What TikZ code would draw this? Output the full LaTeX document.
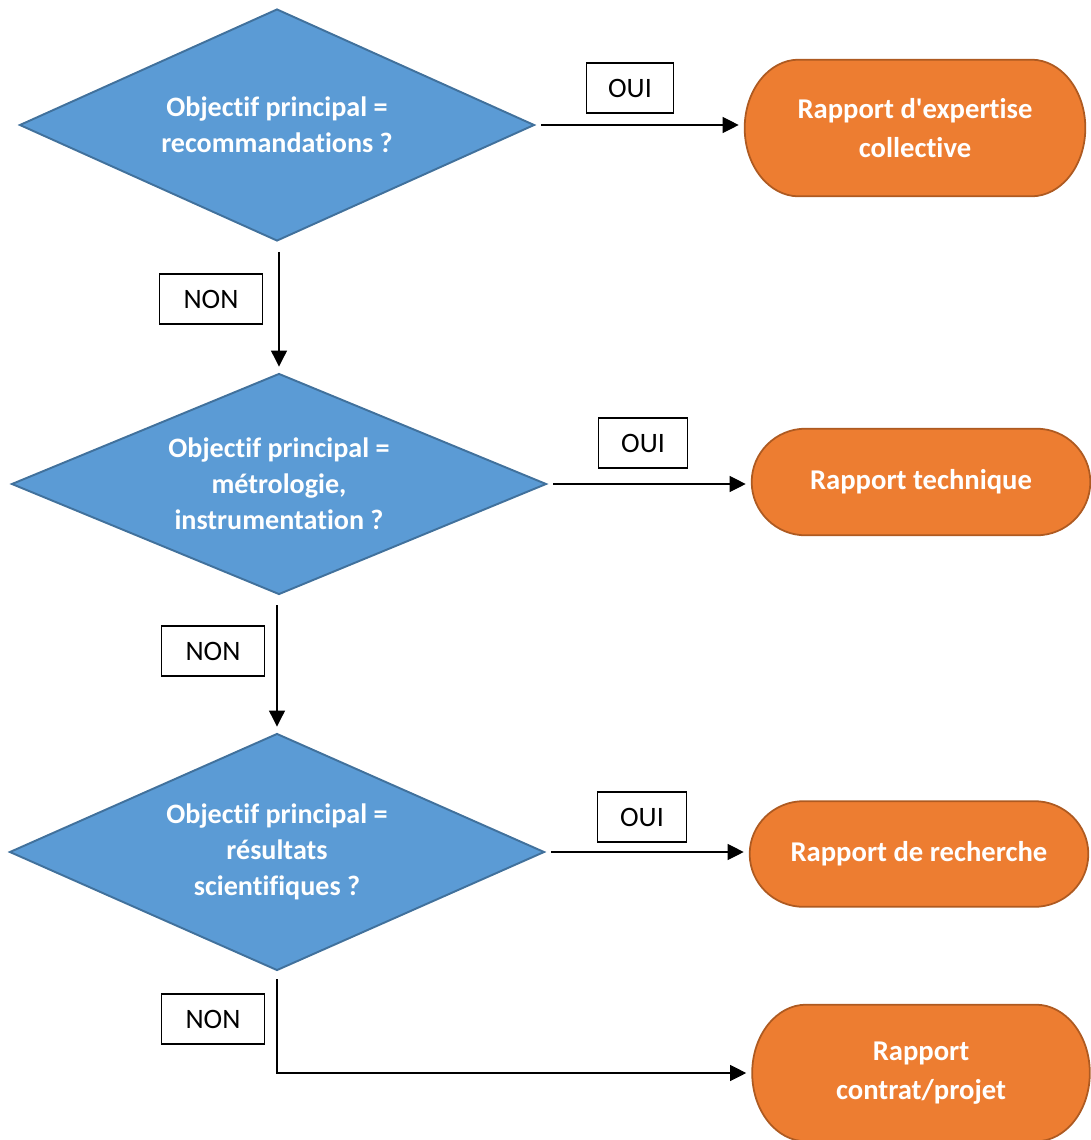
\documentclass[tikz,border=0pt]{standalone}
\usepackage{fontspec}
\setmainfont{Carlito}[Ligatures={TeX,NoCommon}]
\usetikzlibrary{positioning, calc, shapes.geometric, arrows.meta, backgrounds}

\definecolor{diamblue}{HTML}{5B9BD5}
\definecolor{diamedge}{HTML}{41719C}
\definecolor{repfill}{HTML}{ED7D31}
\definecolor{repedge}{HTML}{AE5A21}

\begin{document}
\begin{tikzpicture}[x=0.02cm, y=-0.02cm,
		question/.style={diamond, aspect=2.4, draw=diamedge, fill=diamblue, line width=1.1pt, inner sep=0pt, align=center, text=white, font=\fontsize{16}{20.5}\selectfont\bfseries},
		report/.style={rectangle, inner sep=0pt, align=center, text=white, font=\fontsize{16.3}{22}\selectfont\bfseries},
		reportshape/.style={draw=repedge, fill=repfill, line width=1pt},
		answer/.style={draw, fill=white, line width=0.8pt, minimum height=1cm, font=\fontsize{16}{20}\selectfont},
		arr/.style={-{Triangle[length=0.32cm, width=0.32cm]}, line width=0.6pt, shorten >=0.12cm}]
	\useasboundingbox (0,0) rectangle (1091,1140);

	\node (q1) [question, minimum width=10.3cm, minimum height=4.64cm] at (277,125) {Objectif principal =\\recommandations ?};
	\node (q2) [question, minimum width=10.7cm, minimum height=4.42cm] at (279,484) {Objectif principal =\\métrologie,\\instrumentation ?};
	\node (q3) [question, minimum width=10.7cm, minimum height=4.74cm] at (277,852) {Objectif principal =\\résultats\\scientifiques ?};

	\node (r1) [report, minimum width=6.8cm, minimum height=2.72cm] at (915,128) {Rapport d\textquotesingle expertise\\collective};
	\node (r2) [report, minimum width=6.76cm, minimum height=2.12cm] at (921,482) {Rapport technique};
	\node (r3) [report, minimum width=6.76cm, minimum height=2.1cm] at (919,854) {Rapport de recherche};
	\node (r4) [report, minimum width=6.74cm, minimum height=2.72cm] at (921,1073) {Rapport\\contrat/projet};

	% terminator outlines with elliptic ends
	\begin{scope}[on background layer]
		\foreach \r in {r1,r2,r3,r4}
			\path let \p1=(\r.north west), \p2=(\r.south east), \n1={(\y1-\y2)/2} in
				[reportshape] (\x1+1.08cm,\y1) -- (\x2-1.08cm,\y1)
				arc[start angle=90, end angle=-90, x radius=1.08cm, y radius=\n1]
				-- (\x1+1.08cm,\y2)
				arc[start angle=270, end angle=90, x radius=1.08cm, y radius=\n1] -- cycle;
	\end{scope}

	\node (oui1) [answer, minimum width=1.74cm] at (630,88) {OUI};
	\node (oui2) [answer, minimum width=1.78cm] at (643,443) {OUI};
	\node (oui3) [answer, minimum width=1.78cm] at (642,817) {OUI};
	\node (non1) [answer, minimum width=2.06cm] at (211,299) {NON};
	\node (non2) [answer, minimum width=2.06cm] at (213,651) {NON};
	\node (non3) [answer, minimum width=2.06cm] at (213,1019) {NON};

	\draw [arr, shorten <=0.12cm] (q1.east) -- (q1.east -| r1.west);
	\draw [arr, shorten <=0.12cm] (q2.east) -- (q2.east -| r2.west);
	\draw [arr, shorten <=0.12cm] (q3.east) -- (q3.east -| r3.west);
	\draw [arr, shorten <=0.2cm] (q2.north |- q1.south) -- (q2.north);
	\draw [arr, shorten <=0.2cm] (q3.north |- q2.south) -- (q3.north);
	\draw [arr, shorten <=0.16cm] (q3.south) |- (r4.west);
\end{tikzpicture}
\end{document}
